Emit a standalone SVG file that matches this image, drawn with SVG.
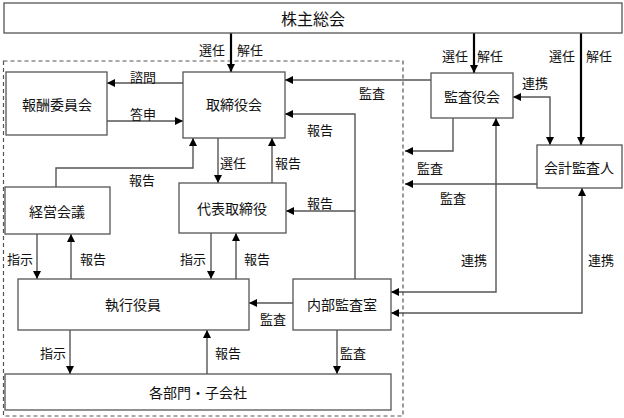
<svg xmlns="http://www.w3.org/2000/svg" width="624" height="418" viewBox="0 0 624 418">
<defs>
<style>
.box{fill:#fff;stroke:#555;stroke-width:1.3}
.bt{font-family:"Noto Sans CJK JP","Liberation Sans",sans-serif;font-size:14px;fill:#111;text-anchor:middle;dominant-baseline:central}
.lb{font-family:"Noto Sans CJK JP","Liberation Sans",sans-serif;font-size:13px;fill:#111;text-anchor:middle;dominant-baseline:central}
.c{fill:none;stroke:#555;stroke-width:1.4}
.k{fill:none;stroke:#000;stroke-width:2.2}
</style>
<marker id="ah" viewBox="0 0 10 10" refX="10" refY="5" markerWidth="8" markerHeight="8" markerUnits="userSpaceOnUse" orient="auto-start-reverse"><path d="M0,0 L10,5 L0,10 z" fill="#000"/></marker>
</defs>
<rect x="3.5" y="61" width="399.5" height="355" fill="none" stroke="#555" stroke-width="1.2" stroke-dasharray="4,3"/>
<g id="connectors">
<line class="k" x1="231" y1="33" x2="231" y2="72" marker-end="url(#ah)"/>
<line class="k" x1="474" y1="33" x2="474" y2="73" marker-end="url(#ah)"/>
<line class="k" x1="581" y1="33" x2="581" y2="145" marker-end="url(#ah)"/>
<line class="c" x1="183" y1="83" x2="107" y2="83" marker-end="url(#ah)"/>
<line class="c" x1="107" y1="121" x2="183" y2="121" marker-end="url(#ah)"/>
<line class="c" x1="431" y1="80" x2="285" y2="80" marker-end="url(#ah)"/>
<polyline class="c" points="355,279 355,114 285,114" marker-end="url(#ah)"/>
<line class="c" x1="355" y1="211" x2="286" y2="211" marker-end="url(#ah)"/>
<line class="c" x1="218" y1="138" x2="218" y2="183" marker-end="url(#ah)"/>
<line class="c" x1="272" y1="183" x2="272" y2="138" marker-end="url(#ah)"/>
<polyline class="c" points="56,187 56,168 193,168 193,138" marker-end="url(#ah)"/>
<line class="c" x1="37" y1="234" x2="37" y2="279" marker-end="url(#ah)"/>
<line class="c" x1="71" y1="279" x2="71" y2="234" marker-end="url(#ah)"/>
<line class="c" x1="211" y1="233" x2="211" y2="279" marker-end="url(#ah)"/>
<line class="c" x1="236" y1="279" x2="236" y2="233" marker-end="url(#ah)"/>
<line class="c" x1="293" y1="303" x2="249" y2="303" marker-end="url(#ah)"/>
<line class="c" x1="70" y1="330" x2="70" y2="374" marker-end="url(#ah)"/>
<line class="c" x1="207" y1="374" x2="207" y2="330" marker-end="url(#ah)"/>
<line class="c" x1="337" y1="330" x2="337" y2="374" marker-end="url(#ah)"/>
<polyline class="c" points="513,97 550,97 550,145" marker-start="url(#ah)" marker-end="url(#ah)"/>
<polyline class="c" points="453,118 453,151 405,151" marker-end="url(#ah)"/>
<line class="c" x1="537" y1="184" x2="405" y2="184" marker-end="url(#ah)"/>
<polyline class="c" points="496,118 496,292 391,292" marker-start="url(#ah)" marker-end="url(#ah)"/>
<polyline class="c" points="582,188 582,313 391,313" marker-start="url(#ah)" marker-end="url(#ah)"/>
</g>
<g id="labels">
<text class="lb" x="212" y="49">選任</text><text class="lb" x="250" y="49">解任</text>
<text class="lb" x="455" y="55">選任</text><text class="lb" x="490" y="55">解任</text>
<text class="lb" x="562" y="55">選任</text><text class="lb" x="599" y="55">解任</text>
<text class="lb" x="143" y="76">諮問</text>
<text class="lb" x="143" y="113">答申</text>
<text class="lb" x="372" y="92">監査</text>
<text class="lb" x="320" y="129">報告</text>
<text class="lb" x="535" y="82">連携</text>
<text class="lb" x="233" y="162">選任</text>
<text class="lb" x="288" y="162">報告</text>
<text class="lb" x="142" y="179">報告</text>
<text class="lb" x="320" y="202">報告</text>
<text class="lb" x="430" y="167">監査</text>
<text class="lb" x="453" y="197">監査</text>
<text class="lb" x="20" y="258">指示</text>
<text class="lb" x="93" y="258">報告</text>
<text class="lb" x="193" y="258">指示</text>
<text class="lb" x="257" y="258">報告</text>
<text class="lb" x="474" y="259">連携</text>
<text class="lb" x="601" y="259">連携</text>
<text class="lb" x="273" y="318">監査</text>
<text class="lb" x="53" y="352">指示</text>
<text class="lb" x="228" y="352">報告</text>
<text class="lb" x="353" y="352">監査</text>
</g>
<g id="n-shareholders"><rect class="box" x="4" y="3" width="618" height="30"/><text class="bt" x="313" y="18" style="font-size:16px">株主総会</text></g>
<g id="n-compensation"><rect class="box" x="6" y="72" width="101" height="63"/><text class="bt" x="57" y="104">報酬委員会</text></g>
<g id="n-board"><rect class="box" x="183" y="72" width="102" height="66"/><text class="bt" x="234" y="104">取締役会</text></g>
<g id="n-auditboard"><rect class="box" x="431" y="73" width="82" height="45"/><text class="bt" x="472" y="96">監査役会</text></g>
<g id="n-accountant"><rect class="box" x="537" y="145" width="85" height="43"/><text class="bt" x="579" y="167">会計監査人</text></g>
<g id="n-mgmtmeeting"><rect class="box" x="5" y="187" width="105" height="47"/><text class="bt" x="57" y="211">経営会議</text></g>
<g id="n-representative"><rect class="box" x="179" y="183" width="107" height="50"/><text class="bt" x="232" y="208">代表取締役</text></g>
<g id="n-officers"><rect class="box" x="18" y="279" width="231" height="51"/><text class="bt" x="133" y="304">執行役員</text></g>
<g id="n-internalaudit"><rect class="box" x="293" y="279" width="98" height="51"/><text class="bt" x="342" y="304">内部監査室</text></g>
<g id="n-departments"><rect class="box" x="5" y="374" width="386" height="36"/><text class="bt" x="198" y="392">各部門・子会社</text></g>
</svg>
